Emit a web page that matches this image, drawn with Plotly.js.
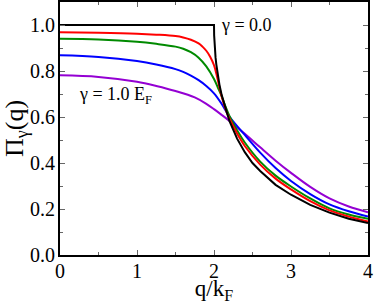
<!DOCTYPE html>
<html>
<head>
<meta charset="utf-8">
<script src="https://cdn.plot.ly/plotly-3.0.1.min.js"></script>
<style>html,body{margin:0;padding:0;background:#fff;}#plot{width:374px;height:304px;}</style>
</head>
<body>
<div id="plot"></div>
<script>
// gamma = 0.0 (black)
const qBlack = [0, 1, 2, 2.002, 2.005, 2.01, 2.02, 2.03, 2.05, 2.07, 2.1, 2.15, 2.2, 2.3, 2.4, 2.5, 2.6, 2.8, 3.0, 3.25, 3.5, 3.75, 4];
const piBlack = [1, 1, 1, 0.955, 0.929, 0.900, 0.859, 0.829, 0.780, 0.742, 0.695, 0.633, 0.583, 0.506, 0.447, 0.400, 0.365, 0.305, 0.262, 0.218, 0.184, 0.158, 0.139];
// red
const qRed = [0, 0.5, 1.0, 1.25, 1.5, 1.6, 1.7, 1.8, 1.85, 1.9, 1.95, 2.0, 2.04, 2.08, 2.12, 2.16, 2.2, 2.3, 2.4, 2.6, 2.8, 3.0, 3.25, 3.5, 3.75, 4];
const piRed = [0.968, 0.966, 0.962, 0.958, 0.952, 0.946, 0.936, 0.920, 0.906, 0.888, 0.862, 0.825, 0.775, 0.715, 0.665, 0.625, 0.594, 0.528, 0.474, 0.393, 0.332, 0.285, 0.234, 0.194, 0.167, 0.146];
// green
const qGreen = [0, 0.5, 1.0, 1.25, 1.5, 1.6, 1.7, 1.8, 1.9, 2.0, 2.05, 2.1, 2.15, 2.2, 2.3, 2.4, 2.6, 2.8, 3.0, 3.25, 3.5, 3.75, 4];
const piGreen = [0.940, 0.937, 0.927, 0.918, 0.906, 0.897, 0.882, 0.858, 0.820, 0.765, 0.728, 0.690, 0.645, 0.605, 0.542, 0.489, 0.406, 0.345, 0.298, 0.246, 0.203, 0.176, 0.157];
// blue
const qBlue = [0, 0.5, 1.0, 1.25, 1.5, 1.6, 1.7, 1.8, 1.9, 2.0, 2.1, 2.2, 2.4, 2.6, 2.8, 3.0, 3.25, 3.5, 3.75, 4];
const piBlue = [0.868, 0.861, 0.843, 0.828, 0.808, 0.796, 0.780, 0.760, 0.735, 0.703, 0.657, 0.602, 0.522, 0.445, 0.378, 0.322, 0.265, 0.220, 0.190, 0.167];
// purple, gamma = 1.0 E_F
const qPurple = [0, 0.5, 1.0, 1.25, 1.5, 1.75, 1.9, 2.0, 2.1, 2.2, 2.4, 2.6, 2.8, 3.0, 3.25, 3.5, 3.75, 4];
const piPurple = [0.781, 0.774, 0.753, 0.735, 0.713, 0.685, 0.657, 0.634, 0.609, 0.583, 0.527, 0.468, 0.410, 0.357, 0.296, 0.246, 0.211, 0.186];

const xTickVals = [0, 1, 2, 3, 4];
const xTickText = ["0", "1", "2", "3", "4"];
const yTickVals = [0, 0.2, 0.4, 0.6, 0.8, 1.0];
const yTickText = ["0.0", "0.2", "0.4", "0.6", "0.8", "1.0"];

const serif = "'Liberation Serif', 'Times New Roman', Times, serif";

function tr(x, y, color, shape) {
  return {x: x, y: y, type: 'scatter', mode: 'lines',
    line: {color: color, width: 2, shape: shape, smoothing: 1},
    hoverinfo: 'skip', showlegend: false};
}

const data = [
  tr(qPurple, piPurple, '#9400d3', 'spline'),
  tr(qBlue, piBlue, '#0000ff', 'spline'),
  tr(qGreen, piGreen, '#008a00', 'spline'),
  tr(qRed, piRed, '#ff0000', 'spline'),
  tr(qBlack, piBlack, '#000000', 'linear')
];

const axisCommon = {
  showgrid: false, zeroline: false, showline: true, linecolor: '#000', linewidth: 2,
  mirror: 'ticks', ticks: 'inside', ticklen: 5, tickwidth: 1, tickcolor: '#666',
  tickfont: {family: serif, size: 20, color: '#000'}
};

const layout = {
  width: 374, height: 304,
  margin: {l: 60, r: 6, t: 2, b: 49},
  paper_bgcolor: '#fff', plot_bgcolor: '#fff',
  font: {family: serif, color: '#000'},
  xaxis: Object.assign({}, axisCommon, {
    range: [0, 4], tickmode: 'array', tickvals: xTickVals, ticktext: xTickText,
    ticklabelstandoff: -3,
    minor: {dtick: 0.5, ticks: 'inside', ticklen: 3, tickcolor: '#666', showgrid: false},
    title: {text: 'q/k<sub>F</sub>', font: {family: serif, size: 23, color: '#000'}, standoff: 0}
  }),
  yaxis: Object.assign({}, axisCommon, {
    range: [0, 1.1], tickmode: 'array', tickvals: yTickVals, ticktext: yTickText,
    ticklabelstandoff: -1,
    minor: {dtick: 0.1, ticks: 'inside', ticklen: 3, tickcolor: '#666', showgrid: false},
    title: {text: 'Π<sub>γ</sub>(q)', font: {family: serif, size: 26, color: '#000'}, standoff: 0}
  }),
  annotations: [
    {x: 2.06, y: 1.0, xref: 'x', yref: 'y', xanchor: 'left', yanchor: 'middle',
     text: 'γ = 0.0', showarrow: false, font: {family: serif, size: 18, color: '#000'}},
    {x: 0.22, y: 0.695, xref: 'x', yref: 'y', xanchor: 'left', yanchor: 'middle',
     text: 'γ = 1.0 E<sub>F</sub>', showarrow: false, font: {family: serif, size: 18, color: '#000'}}
  ]
};

Plotly.newPlot('plot', data, layout, {staticPlot: true, displayModeBar: false});
</script>
</body>
</html>
